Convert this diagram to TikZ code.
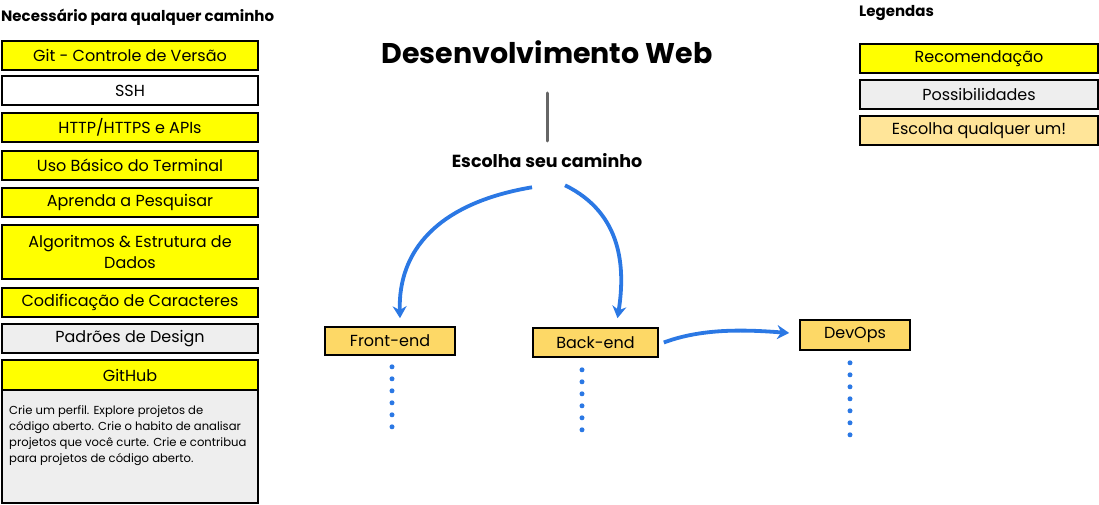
\documentclass[tikz,border=0pt]{standalone}
\usepackage{fontspec}
\setmainfont{Poppins}
\usetikzlibrary{arrows.meta,calc}
\definecolor{yel}{HTML}{FFFF00}
\definecolor{gry}{HTML}{EEEEEE}
\definecolor{org}{HTML}{FDD866}
\definecolor{lorg}{HTML}{FFE599}
\definecolor{blu}{HTML}{2B78E4}
\definecolor{vline}{HTML}{666666}
\tikzset{
  box/.style={draw=black, line width=1.6pt, minimum width=256pt, minimum height=29pt, inner sep=0pt, font=\fontsize{16}{19}\selectfont},
  pathbox/.style={draw=black, line width=1.6pt, fill=org, minimum height=28pt, inner sep=0pt, font=\fontsize{16}{19}\selectfont},
  hdr/.style={font=\fontsize{15}{18}\selectfont\bfseries, inner sep=0pt},
  barrow/.style={draw=blu, line width=3.8pt, -{Stealth[length=12pt,width=14pt]}},
  dots/.style={draw=blu, line width=5pt, line cap=round, dash pattern=on 0pt off 12pt},
}
\begin{document}
\begin{tikzpicture}[x=1pt,y=-1pt]
\useasboundingbox (0,0) rectangle (1099,505);
% left column
\node[hdr, anchor=west] (nec) at (1,17) {Necessário para qualquer caminho};
\node[box, fill=yel] (git) at (130,55.5) {Git - Controle de Versão};
\node[box, fill=white] (ssh) at (130,90.5) {SSH};
\node[box, fill=yel] (http) at (130,127.5) {HTTP/HTTPS e APIs};
\node[box, fill=yel] (term) at (130,165.5) {Uso Básico do Terminal};
\node[box, fill=yel] (pesq) at (130,202.5) {Aprenda a Pesquisar};
\node[box, fill=yel, minimum height=54pt, align=center, font=\fontsize{16}{21}\selectfont] (algo) at (130,252) {Algoritmos \& Estrutura de\\Dados};
\node[box, fill=yel] (cod) at (130,302.5) {Codificação de Caracteres};
\node[box, fill=gry] (pad) at (130,338.5) {Padrões de Design};
\node[box, fill=gry, minimum height=113pt] (ghdesc) at (130,446.5) {};
\node[box, fill=yel, minimum height=30pt] (gh) at (130,375) {GitHub};
\node[anchor=north west, inner sep=0pt, align=left, font=\fontsize{11.6}{16}\selectfont] (ghtxt) at (9,405) {Crie um perfil. Explore projetos de\\código aberto. Crie o habito de analisar\\projetos que você curte. Crie e contribua\\para projetos de código aberto.};
% center
\node[font=\fontsize{28.5}{33}\selectfont\bfseries, inner sep=0pt] (title) at (547,52) {Desenvolvimento Web};
\node[font=\fontsize{17.5}{21}\selectfont\bfseries, inner sep=0pt] (esc) at (547,161) {Escolha seu caminho};
\coordinate (vtop) at (547,93);
\coordinate (vbot) at (547,141);
\draw[vline, line width=3pt, line cap=round] (vtop) -- (vbot);
\node[pathbox, minimum width=130pt] (fe) at (390,341) {Front-end};
\node[pathbox, minimum width=125pt, minimum height=29pt] (be) at (595.5,342.5) {Back-end};
\node[pathbox, minimum width=110pt, minimum height=30pt] (dev) at (855,335) {DevOps};
\draw[barrow] ($(esc.south)+(-15,19)$) .. controls ($(esc.south)+(-110,35)$) and ($(fe.north)+(8,-75)$) .. ($(fe.north)+(10,-8)$);
\draw[barrow] ($(esc.south)+(18,17)$) .. controls ($(esc.south)+(75,45)$) and ($(be.north)+(30,-60)$) .. ($(be.north)+(22,-9)$);
\draw[barrow] ($(be.east)+(5,0)$) .. controls ($(be.east)+(45,-15)$) and ($(dev.west)+(-50,-5)$) .. ($(dev.west)+(-10,-2)$);
\draw[dots] ($(fe.south)+(2,11)$) -- ($(fe.south)+(2,76)$);
\draw[dots] ($(be.south)+(-13.5,12)$) -- ($(be.south)+(-13.5,77)$);
\draw[dots] ($(dev.south)+(-5,12)$) -- ($(dev.south)+(-5,86)$);
% legend
\node[hdr, anchor=west] (leg) at (859,13) {Legendas};
\node[box, fill=yel, minimum width=238pt] (l1) at (979,58.5) {Recomendação};
\node[box, fill=gry, minimum width=238pt] (l2) at (979,94.5) {Possibilidades};
\node[box, fill=lorg, minimum width=238pt] (l3) at (979,130.5) {Escolha qualquer um!};
\end{tikzpicture}
\end{document}
